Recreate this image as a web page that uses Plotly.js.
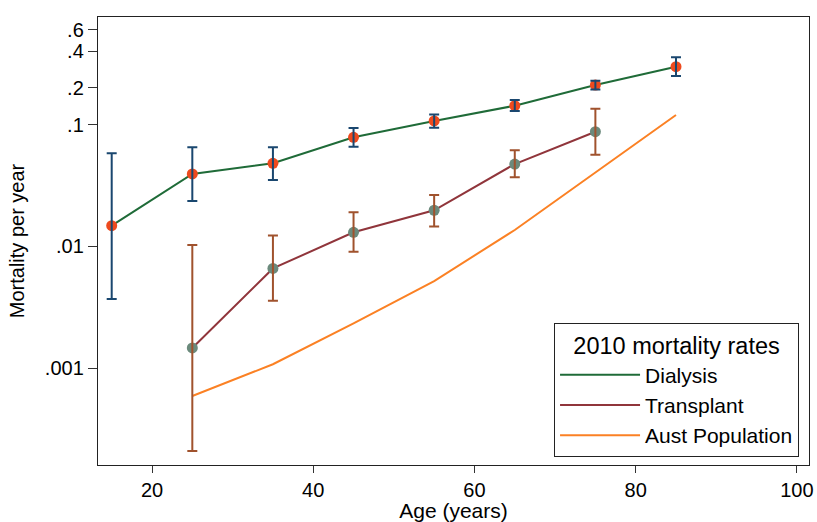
<!DOCTYPE html>
<html>
<head>
<meta charset="utf-8">
<script src="https://cdn.plot.ly/plotly-3.0.1.min.js"></script>
<style>html,body{margin:0;padding:0;background:#fff;}#chart{width:817px;height:522px;}</style>
</head>
<body>
<div id="chart"></div>
<script>
// Data
var ageDialysis = [15, 25, 35, 45, 55, 65, 75, 85];
var dialysisRate = [0.0148, 0.0393, 0.0481, 0.0785, 0.107, 0.1426, 0.211, 0.298];
var dialysisUpper = [0.058, 0.065, 0.065, 0.0936, 0.121, 0.159, 0.229, 0.356];
var dialysisLower = [0.00371, 0.0236, 0.0351, 0.0658, 0.094, 0.129, 0.194, 0.250];

var ageTransplant = [25, 35, 45, 55, 65, 75];
var transplantRate = [0.00147, 0.0066, 0.01306, 0.0198, 0.0474, 0.0873];
var transplantUpper = [0.01026, 0.0123, 0.01905, 0.0264, 0.0614, 0.135];
var transplantLower = [0.00021, 0.00359, 0.00906, 0.0146, 0.0369, 0.0565];

var agePopulation = [25, 35, 45, 55, 65, 75, 85];
var populationRate = [0.000593, 0.00108, 0.00234, 0.0052, 0.01364, 0.0404, 0.1197];

var yTickVals = [0.001, 0.01, 0.1, 0.2, 0.4, 0.6];
var yTickText = ['.001', '.01', '.1', '.2', '.4', '.6'];
var xTickVals = [20, 40, 60, 80, 100];

function diff(a, b) { return a.map(function (v, i) { return v - b[i]; }); }

var FONT = 'Liberation Sans, Arial, sans-serif';

var traces = [
  {x: ageDialysis, y: dialysisRate, mode: 'lines', name: 'Dialysis',
   line: {color: '#1f6b38', width: 2}, hoverinfo: 'skip'},
  {x: ageTransplant, y: transplantRate, mode: 'lines', name: 'Transplant',
   line: {color: '#90353b', width: 2}, hoverinfo: 'skip'},
  {x: agePopulation, y: populationRate, mode: 'lines', name: 'Aust Population',
   line: {color: '#fb8124', width: 2}, hoverinfo: 'skip'},
  {x: ageDialysis, y: dialysisRate, mode: 'markers', showlegend: false,
   marker: {color: '#ee4a1e', size: 11}, hoverinfo: 'skip'},
  {x: ageTransplant, y: transplantRate, mode: 'markers', showlegend: false,
   marker: {color: '#6b8a7c', size: 11}, hoverinfo: 'skip'},
  {x: ageDialysis, y: dialysisRate, mode: 'markers', showlegend: false,
   marker: {opacity: 0, size: 2},
   error_y: {type: 'data', symmetric: false,
     array: diff(dialysisUpper, dialysisRate), arrayminus: diff(dialysisRate, dialysisLower),
     color: '#1a476f', thickness: 2, width: 5}, hoverinfo: 'skip'},
  {x: ageTransplant, y: transplantRate, mode: 'markers', showlegend: false,
   marker: {opacity: 0, size: 2},
   error_y: {type: 'data', symmetric: false,
     array: diff(transplantUpper, transplantRate), arrayminus: diff(transplantRate, transplantLower),
     color: '#a0522d', thickness: 2, width: 5}, hoverinfo: 'skip'}
];

var layout = {
  width: 817, height: 522,
  margin: {l: 98, r: 8, t: 17, b: 57},
  paper_bgcolor: '#ffffff', plot_bgcolor: '#ffffff',
  font: {family: FONT, size: 20, color: '#000'},
  showlegend: true,
  xaxis: {
    range: [13.3, 101.5], tickvals: xTickVals, ticktext: xTickVals.map(String),
    ticks: 'outside', ticklen: 7, tickcolor: '#333', showgrid: false, zeroline: false,
    showline: true, mirror: true, linecolor: '#222', linewidth: 1.2,
    tickfont: {size: 20},
    title: {text: 'Age (years)', font: {size: 21}, standoff: 1}
  },
  yaxis: {
    type: 'log', range: [-3.793, -0.118], tickvals: yTickVals, ticktext: yTickText,
    ticks: 'outside', ticklen: 9, tickcolor: '#333', showgrid: false, zeroline: false,
    showline: true, mirror: true, linecolor: '#222', linewidth: 1.2,
    tickfont: {size: 20},
    title: {text: 'Mortality per year', font: {size: 20}, standoff: 14}
  },
  legend: {
    x: 0.986, xanchor: 'right', y: 0.018, yanchor: 'bottom',
    bgcolor: '#fff', bordercolor: '#222', borderwidth: 1,
    font: {size: 21}, itemwidth: 80,
    title: {text: '2010 mortality rates', side: 'top center', font: {size: 23.5}},
    tracegroupgap: 0
  }
};

Plotly.newPlot('chart', traces, layout, {staticPlot: true, displayModeBar: false});
</script>
</body>
</html>
